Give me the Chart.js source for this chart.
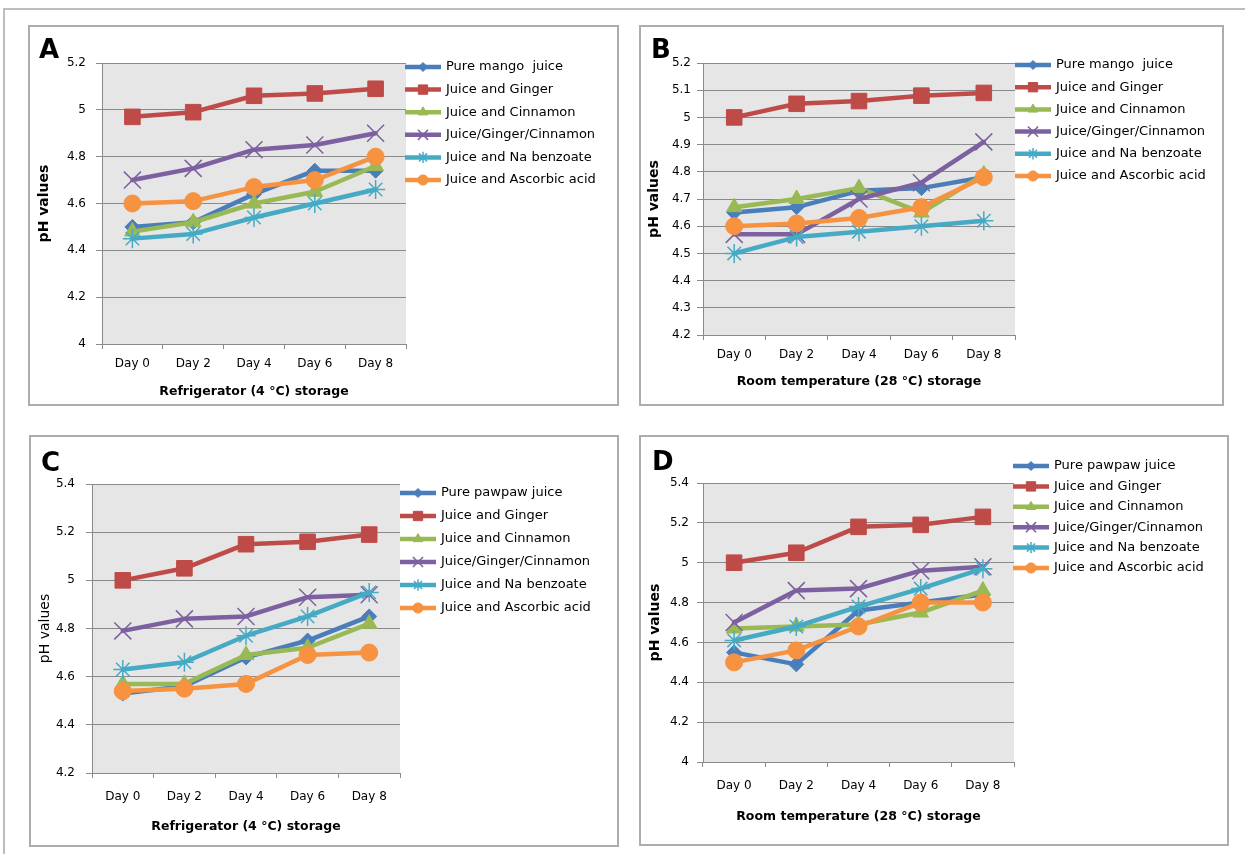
<!DOCTYPE html>
<html>
<head>
<meta charset="utf-8">
<script src="https://cdn.jsdelivr.net/npm/chart.js@4.4.0/dist/chart.umd.min.js"></script>
<style>
    body { margin: 0; width: 1245px; height: 854px; background: #fff; position: relative; overflow: hidden; }
    .frame { position: absolute; left: 3px; top: 8px; width: 1300px; height: 900px; border-top: 2px solid #bdbdbd; border-left: 2px solid #bdbdbd; }
    .panel { position: absolute; box-sizing: border-box; border: 2px solid #adadad; }
    .panel canvas { position: absolute; left: -2px; top: -2px; }
    .letter { position: absolute; font: bold 26px "DejaVu Sans"; line-height: 1; color: #000; }
</style>
</head>
<body>
<div class="frame"></div>
<div class="panel" style="left:28px;top:25px;width:591px;height:381px;"><canvas id="chartA" width="591" height="381"></canvas></div>
<div class="panel" style="left:639px;top:25px;width:585px;height:381px;"><canvas id="chartB" width="585" height="381"></canvas></div>
<div class="panel" style="left:29px;top:435px;width:590px;height:412px;"><canvas id="chartC" width="590" height="412"></canvas></div>
<div class="panel" style="left:639px;top:435px;width:590px;height:411px;"><canvas id="chartD" width="590" height="411"></canvas></div>
<div class="letter" style="left:39px;top:36px;">A</div>
<div class="letter" style="left:651px;top:36px;">B</div>
<div class="letter" style="left:41px;top:449px;">C</div>
<div class="letter" style="left:652px;top:448px;">D</div>

<script>
    // categories
    const days = ['Day 0', 'Day 2', 'Day 4', 'Day 6', 'Day 8'];

    // legend names
    const mangoNames = ['Pure mango  juice', 'Juice and Ginger', 'Juice and Cinnamon', 'Juice/Ginger/Cinnamon', 'Juice and Na benzoate', 'Juice and Ascorbic acid'];
    const pawpawNames = ['Pure pawpaw juice', 'Juice and Ginger', 'Juice and Cinnamon', 'Juice/Ginger/Cinnamon', 'Juice and Na benzoate', 'Juice and Ascorbic acid'];

    // A - mango, refrigerator
    const aPure = [4.50, 4.52, 4.64, 4.74, 4.74];
    const aGinger = [4.97, 4.99, 5.06, 5.07, 5.09];
    const aCinnamon = [4.48, 4.52, 4.60, 4.65, 4.76];
    const aGingerCinnamon = [4.70, 4.75, 4.83, 4.85, 4.90];
    const aBenzoate = [4.45, 4.47, 4.54, 4.60, 4.66];
    const aAscorbic = [4.60, 4.61, 4.67, 4.70, 4.80];

    // B - mango, room temperature
    const bPure = [4.65, 4.67, 4.73, 4.74, 4.78];
    const bGinger = [5.00, 5.05, 5.06, 5.08, 5.09];
    const bCinnamon = [4.67, 4.70, 4.74, 4.65, 4.79];
    const bGingerCinnamon = [4.57, 4.57, 4.70, 4.76, 4.91];
    const bBenzoate = [4.50, 4.56, 4.58, 4.60, 4.62];
    const bAscorbic = [4.60, 4.61, 4.63, 4.67, 4.78];

    // C - pawpaw, refrigerator
    const cPure = [4.53, 4.56, 4.68, 4.75, 4.85];
    const cGinger = [5.00, 5.05, 5.15, 5.16, 5.19];
    const cCinnamon = [4.57, 4.57, 4.69, 4.72, 4.82];
    const cGingerCinnamon = [4.79, 4.84, 4.85, 4.93, 4.94];
    const cBenzoate = [4.63, 4.66, 4.77, 4.85, 4.95];
    const cAscorbic = [4.54, 4.55, 4.57, 4.69, 4.70];

    // D - pawpaw, room temperature
    const dPure = [4.55, 4.49, 4.76, 4.80, 4.84];
    const dGinger = [5.00, 5.05, 5.18, 5.19, 5.23];
    const dCinnamon = [4.67, 4.68, 4.69, 4.75, 4.86];
    const dGingerCinnamon = [4.70, 4.86, 4.87, 4.96, 4.98];
    const dBenzoate = [4.61, 4.68, 4.78, 4.87, 4.97];
    const dAscorbic = [4.50, 4.56, 4.68, 4.80, 4.80];

    const colors = ['#4a7ebb', '#be4b48', '#98b954', '#7d60a0', '#46aac5', '#f69240'];
    const markers = ['rectRot', 'rect', 'triangle', 'crossRot', 'star', 'circle'];
    const markerSizes = [7.5, 11, 9, 12, 9.5, 8.5];
    const markerBorders = [1, 1, 1, 1.5, 1.5, 1];

    const fontFamily = '"DejaVu Sans", sans-serif';
    const axisColor = '#8a8a8a';

    const plotBackground = {
        id: 'plotBackground',
        beforeDraw(chart) {
            const a = chart.chartArea;
            const ctx = chart.ctx;
            ctx.save();
            ctx.fillStyle = '#e6e6e6';
            ctx.fillRect(a.left, a.top, a.right - a.left, a.bottom - a.top);
            ctx.restore();
        }
    };

    // excel style legend: short line with the marker in the middle
    const sideLegend = {
        id: 'sideLegend',
        afterDraw(chart, args, opts) {
            const ctx = chart.ctx;
            chart.data.datasets.forEach(function(ds, i) {
                const y = opts.y + i * opts.gap;
                ctx.save();
                ctx.strokeStyle = ds.borderColor;
                ctx.fillStyle = ds.borderColor;
                ctx.lineWidth = 4.5;
                ctx.beginPath();
                ctx.moveTo(opts.x, y);
                ctx.lineTo(opts.x + 36, y);
                ctx.stroke();
                ctx.lineWidth = ds.pointBorderWidth;
                if (Chart.helpers && Chart.helpers.drawPoint) {
                    Chart.helpers.drawPoint(ctx, { pointStyle: ds.pointStyle, radius: ds.pointRadius * 0.6, rotation: 0, borderWidth: ds.pointBorderWidth }, opts.x + 18, y);
                }
                ctx.fillStyle = '#000';
                ctx.font = '13px ' + fontFamily;
                ctx.textBaseline = 'middle';
                ctx.fillText(ds.label, opts.x + 41, y);
                ctx.restore();
            });
        }
    };

    function drawPanel(id, names, values, g) {
        const ctx = document.getElementById(id);
        return new Chart(ctx, {
            type: 'line',
            data: {
                labels: days,
                datasets: names.map(function(name, i) {
                    return {
                        label: name,
                        data: values[i],
                        borderColor: colors[i],
                        backgroundColor: colors[i],
                        pointBackgroundColor: colors[i],
                        pointBorderColor: colors[i],
                        pointStyle: markers[i],
                        pointRadius: markerSizes[i],
                        pointBorderWidth: markerBorders[i],
                        borderWidth: 4.5,
                        borderJoinStyle: 'round',
                        borderCapStyle: 'round',
                        tension: 0,
                        order: names.length - i // later series drawn on top, like excel
                    };
                })
            },
            options: {
                responsive: false,
                animation: false,
                events: [],
                layout: { padding: { left: 0, top: g.top, right: g.right, bottom: 0 } },
                plugins: {
                    legend: { display: false },
                    tooltip: { enabled: false },
                    sideLegend: { x: g.legendX, y: g.legendY, gap: g.legendGap }
                },
                scales: {
                    x: {
                        offset: true,
                        grid: { display: true, drawOnChartArea: false, drawTicks: true, tickLength: 5, offset: true, color: axisColor },
                        border: { display: true, color: axisColor, width: 1 },
                        ticks: { color: '#000', font: { family: fontFamily, size: 12 }, padding: g.xTickPad, maxRotation: 0, autoSkip: false },
                        title: {
                            display: true,
                            text: g.xTitle,
                            color: '#000',
                            font: { family: fontFamily, size: 12.5, weight: 'bold' },
                            padding: { top: 0, bottom: g.xTitlePad }
                        },
                        afterFit: function(s) { s.height = g.bottom; }
                    },
                    y: {
                        min: g.min,
                        max: g.max,
                        ticks: {
                            stepSize: g.step,
                            color: '#000',
                            font: { family: fontFamily, size: 12 },
                            padding: g.yTickPad,
                            callback: function(v) { return Number(v.toFixed(1)).toString(); }
                        },
                        grid: { color: axisColor, lineWidth: 1, drawTicks: true, tickLength: 6 },
                        border: { display: true, color: axisColor, width: 1 },
                        title: {
                            display: true,
                            text: 'pH values',
                            color: '#000',
                            font: { family: fontFamily, size: 14, weight: g.yTitleWeight },
                            padding: { top: g.yTitlePad, bottom: 0 }
                        },
                        afterFit: function(s) { s.width = g.left; }
                    }
                }
            },
            plugins: [plotBackground, sideLegend]
        });
    }

    drawPanel('chartA', mangoNames, [aPure, aGinger, aCinnamon, aGingerCinnamon, aBenzoate, aAscorbic], {
        left: 74, top: 38, right: 213, bottom: 62, min: 4, max: 5.2, step: 0.2,
        xTickPad: 8, yTickPad: 10, xTitlePad: 7, yTitlePad: 8, yTitleWeight: 'bold',
        xTitle: 'Refrigerator (4 °C) storage', legendX: 377, legendY: 42, legendGap: 22.6
    });

    drawPanel('chartB', mangoNames, [bPure, bGinger, bCinnamon, bGingerCinnamon, bBenzoate, bAscorbic], {
        left: 64, top: 38, right: 209, bottom: 71, min: 4.2, max: 5.2, step: 0.1,
        xTickPad: 8, yTickPad: 6, xTitlePad: 17, yTitlePad: 7, yTitleWeight: 'bold',
        xTitle: 'Room temperature (28 °C) storage', legendX: 376, legendY: 40, legendGap: 22.2
    });

    drawPanel('chartC', pawpawNames, [cPure, cGinger, cCinnamon, cGingerCinnamon, cBenzoate, cAscorbic], {
        left: 63, top: 49, right: 219, bottom: 74, min: 4.2, max: 5.4, step: 0.2,
        xTickPad: 12, yTickPad: 11, xTitlePad: 13, yTitlePad: 8, yTitleWeight: 'normal',
        xTitle: 'Refrigerator (4 °C) storage', legendX: 371, legendY: 58, legendGap: 23
    });

    drawPanel('chartD', pawpawNames, [dPure, dGinger, dCinnamon, dGingerCinnamon, dBenzoate, dAscorbic], {
        left: 64, top: 48, right: 215, bottom: 84, min: 4, max: 5.4, step: 0.2,
        xTickPad: 12, yTickPad: 8, xTitlePad: 22, yTitlePad: 8, yTitleWeight: 'bold',
        xTitle: 'Room temperature (28 °C) storage', legendX: 374, legendY: 31, legendGap: 20.4
    });
</script>
</body>
</html>
